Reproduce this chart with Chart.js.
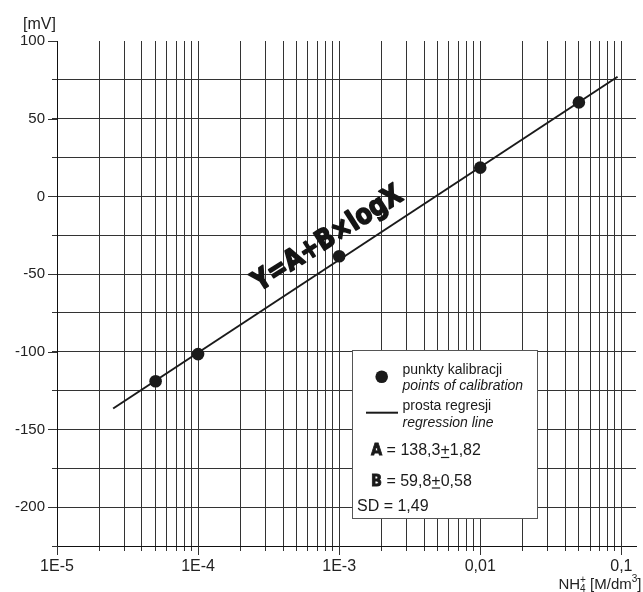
<!DOCTYPE html>
<html><head><meta charset="utf-8">
<script src="https://cdn.jsdelivr.net/npm/chart.js@4/dist/chart.umd.min.js"></script>
<style>html,body{margin:0;padding:0;background:#fff;}canvas{display:block;}</style>
</head><body>
<canvas id="c" width="643" height="592"></canvas>
<script>
// ---- data ----
const calibrationX = [5e-5, 1e-4, 1e-3, 0.01, 0.05];
const calibrationY = [-119, -101.5, -38.5, 18.5, 60.5];
const regressionX = [2.5e-5, 0.094];
const regressionY = [-136.5, 77];
const xDecades = [1e-5, 1e-4, 1e-3, 0.01, 0.1];
const xDecadeLabels = ['1E-5', '1E-4', '1E-3', '0,01', '0,1'];
const xMinorMultipliers = [2, 3, 4, 5, 6, 7, 8, 9];
const yTickValues = [-225, -200, -175, -150, -125, -100, -75, -50, -25, 0, 25, 50, 75, 100];
const yLabelledValues = [-200, -150, -100, -50, 0, 50, 100];
const yAxisTitle = '[mV]';
const legendPointsPL = 'punkty kalibracji';
const legendPointsEN = 'points of calibration';
const legendLinePL = 'prosta regresji';
const legendLineEN = 'regression line';
const paramA = ['A', '138,3', '1,82'];
const paramB = ['B', '59,8', '0,58'];
const paramSD = 'SD = 1,49';
const formulaText = 'Y=A+B\u00D7logX';

// ---- ticks built from the arrays ----
const xTicks = [];
xDecades.forEach((d, i) => {
  xTicks.push({ v: d, label: xDecadeLabels[i] });
  if (i < xDecades.length - 1) xMinorMultipliers.forEach(m => xTicks.push({ v: m * d, label: '' }));
});

const SANS = '"Liberation Sans", Arial, sans-serif';
const COND = '"Liberation Sans Narrow", "DejaVu Sans Condensed", "Liberation Sans", sans-serif';
const GRID = '#333';

const extras = {
  id: 'extras',
  afterDraw(chart) {
    const ctx = chart.ctx;
    const xs = chart.scales.x, ys = chart.scales.y;
    const ca = chart.chartArea;
    ctx.save();
    // longer ticks for labelled values
    ctx.strokeStyle = GRID; ctx.lineWidth = 1;
    yLabelledValues.forEach(v => {
      const y = Math.round(ys.getPixelForValue(v)) + 0.5;
      ctx.beginPath(); ctx.moveTo(ca.left - 9, y); ctx.lineTo(ca.left, y); ctx.stroke();
    });
    xDecades.forEach(v => {
      const x = Math.round(xs.getPixelForValue(v)) + 0.5;
      ctx.beginPath(); ctx.moveTo(x, ca.bottom); ctx.lineTo(x, ca.bottom + 9); ctx.stroke();
    });

    // axis titles
    ctx.fillStyle = '#222';
    ctx.font = '16px ' + SANS;
    ctx.textBaseline = 'alphabetic'; ctx.textAlign = 'left';
    ctx.fillText(yAxisTitle, 23, 29);

    // NH4+ [M/dm3]
    const big = '15px ' + SANS, small = '10px ' + SANS;
    const parts = [
      { t: 'NH', f: big, dy: 0 },
      { t: '4', f: small, dy: 3 },
      { t: '+', f: small, dy: -6, overlap: true },
      { t: ' [M/dm', f: big, dy: 0 },
      { t: '3', f: small, dy: -7 },
      { t: ']', f: big, dy: 0 }
    ];
    let total = 0; const widths = [];
    parts.forEach((p, i) => {
      ctx.font = p.f; const w = ctx.measureText(p.t).width; widths.push(w);
      if (!p.overlap) total += w;
      else total += Math.max(0, w - widths[i - 1]);
    });
    let px = 641.5 - total, lastX = px;
    parts.forEach((p, i) => {
      ctx.font = p.f;
      const drawX = p.overlap ? lastX : px;
      ctx.fillText(p.t, drawX, 589 + p.dy);
      if (p.overlap) { px = Math.max(px, drawX + widths[i]); }
      else { lastX = px; px += widths[i]; }
    });

    // rotated formula
    ctx.save();
    ctx.translate(326.5, 237);
    ctx.rotate(-32.5 * Math.PI / 180);
    ctx.font = 'bold 28px ' + COND;
    const fw = ctx.measureText(formulaText).width;
    ctx.scale(172 / fw, 1);
    ctx.textAlign = 'center'; ctx.textBaseline = 'alphabetic';
    ctx.fillStyle = '#151515';
    ctx.strokeStyle = '#151515';
    ctx.lineWidth = 1.6;
    ctx.lineJoin = 'round';
    ctx.fillText(formulaText, 0, 10);
    ctx.strokeText(formulaText, 0, 10);
    ctx.restore();

    // legend box
    ctx.fillStyle = '#fff';
    ctx.fillRect(352, 350, 185, 168);
    ctx.strokeStyle = '#555'; ctx.lineWidth = 1;
    ctx.strokeRect(352.5, 350.5, 185, 168);
    ctx.fillStyle = '#1a1a1a';
    ctx.beginPath(); ctx.arc(381.7, 376.7, 6.3, 0, Math.PI * 2); ctx.fill();
    ctx.strokeStyle = '#1a1a1a'; ctx.lineWidth = 2;
    ctx.beginPath(); ctx.moveTo(366, 412.7); ctx.lineTo(398, 412.7); ctx.stroke();
    ctx.textAlign = 'left';
    ctx.font = '14px ' + SANS;
    ctx.fillText(legendPointsPL, 402.5, 373.5);
    ctx.fillText(legendLinePL, 402.5, 410);
    ctx.font = 'italic 14px ' + SANS;
    ctx.fillText(legendPointsEN, 402.5, 390);
    ctx.fillText(legendLineEN, 402.5, 426.5);

    function param(p, y) {
      let x = 371;
      ctx.font = 'bold 16px ' + COND;
      ctx.lineWidth = 0.8;
      ctx.fillText(p[0], x, y); ctx.strokeText(p[0], x, y);
      x += ctx.measureText(p[0]).width;
      ctx.font = '16px ' + SANS;
      const s1 = ' = ' + p[1];
      ctx.fillText(s1, x, y); x += ctx.measureText(s1).width;
      const pw = ctx.measureText('+').width;
      ctx.fillText('+', x, y);
      ctx.lineWidth = 1.2;
      ctx.beginPath(); ctx.moveTo(x + 0.5, y + 2.5); ctx.lineTo(x + pw - 0.5, y + 2.5); ctx.stroke();
      x += pw;
      ctx.fillText(p[2], x, y);
    }
    param(paramA, 455);
    param(paramB, 485.5);
    ctx.font = '16px ' + SANS;
    ctx.fillText(paramSD, 357, 510.5);
    ctx.restore();
  }
};

new Chart(document.getElementById('c'), {
  type: 'scatter',
  data: {
    datasets: [
      {
        label: 'punkty kalibracji',
        data: calibrationX.map((x, i) => ({ x, y: calibrationY[i] })),
        pointRadius: 6.3, pointHoverRadius: 6.3,
        backgroundColor: '#1a1a1a', borderWidth: 0, pointBorderWidth: 0
      },
      {
        label: 'prosta regresji',
        data: regressionX.map((x, i) => ({ x, y: regressionY[i] })),
        showLine: true, pointRadius: 0, borderColor: '#1a1a1a', borderWidth: 2, fill: false
      }
    ]
  },
  options: {
    responsive: false, animation: false, devicePixelRatio: 1,
    layout: { padding: { left: 0, top: 41, right: 7, bottom: 0 } },
    plugins: { legend: { display: false }, tooltip: { enabled: false } },
    scales: {
      x: {
        type: 'logarithmic', min: 1e-5, max: 0.127,
        afterBuildTicks: s => { s.ticks = xTicks.map(t => ({ value: t.v })); },
        afterFit: s => { s.height = 46; },
        ticks: {
          autoSkip: false, maxRotation: 0, minRotation: 0, padding: 6,
          color: '#222', font: { family: SANS, size: 16 },
          callback: (v, i) => (xTicks[i] ? xTicks[i].label : '')
        },
        grid: { color: GRID, lineWidth: 1, tickLength: 5, tickColor: GRID, drawTicks: true },
        border: { display: true, color: '#111', width: 1 }
      },
      y: {
        type: 'linear', min: -225, max: 100,
        afterBuildTicks: s => { s.ticks = yTickValues.map(v => ({ value: v })); },
        afterFit: s => { s.width = 57; },
        ticks: {
          autoSkip: false, padding: 7, color: '#222', font: { family: SANS, size: 15 },
          callback: v => (yLabelledValues.includes(v) ? String(v) : '')
        },
        grid: {
          color: c => (c.tick && c.tick.value === 100 ? 'rgba(0,0,0,0)' : GRID),
          lineWidth: 1, tickLength: 5, tickColor: GRID, drawTicks: true
        },
        border: { display: true, color: '#111', width: 1 }
      }
    }
  },
  plugins: [extras]
});
</script>
</body></html>
